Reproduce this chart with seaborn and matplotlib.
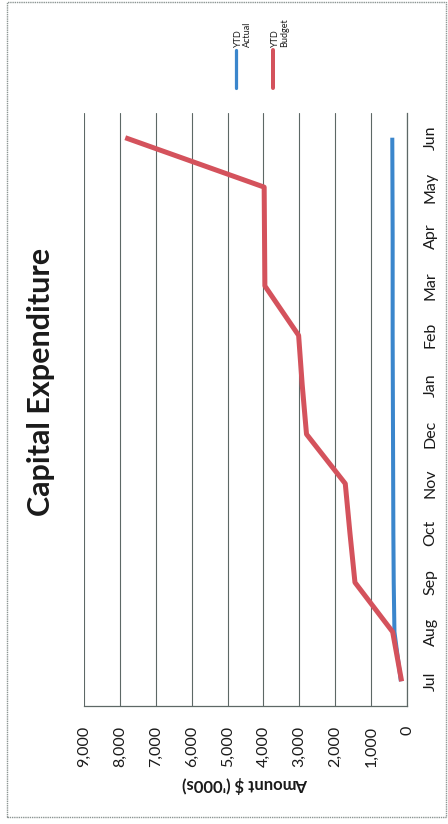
import matplotlib
matplotlib.use("Agg")
import matplotlib.pyplot as plt
from matplotlib.lines import Line2D
from matplotlib.patches import Rectangle
from matplotlib.ticker import FuncFormatter, MultipleLocator
import pandas as pd
import seaborn as sns

# Financial year months (Jul -> Jun)
months = ["Jul", "Aug", "Sep", "Oct", "Nov", "Dec", "Jan", "Feb", "Mar", "Apr", "May", "Jun"]
# Cumulative year-to-date capital expenditure, $'000s
ytd_actual = [170, 350, 370, 380, 385, 390, 395, 400, 400, 400, 405, 410]
ytd_budget = [150, 400, 1450, 1590, 1720, 2800, 2920, 3020, 3960, 3970, 3980, 7850]
series_names = ["YTD Actual", "YTD Budget"]
series_colors = ["#3b86cc", "#d4525c"]

sns.set_theme(style="white")
plt.rcParams["font.family"] = ["Lato", "DejaVu Sans"]

df = pd.DataFrame({
    "pos": list(range(len(months))) * 2,
    "month": months * 2,
    "amount": ytd_actual + ytd_budget,
    "series": [series_names[0]] * len(months) + [series_names[1]] * len(months),
})

fig = plt.figure(figsize=(4.48, 8.24), dpi=100)
ax = fig.add_axes([84 / 448, 1 - 706 / 824, (407 - 84) / 448, (706 - 113) / 824])

# The page is laid out sideways: months run up the page, amounts run right-to-left.
for name, color, lw in zip(series_names, series_colors, [2.9, 3.6]):
    sns.lineplot(data=df[df["series"] == name], x="amount", y="pos", orient="y",
                 sort=False, color=color, linewidth=lw, ax=ax, legend=False,
                 solid_capstyle="butt")

ax.set_xlim(9000, 0)
ax.set_ylim(-0.5, len(months) - 0.5)
ax.xaxis.set_major_locator(MultipleLocator(1000))
ax.xaxis.set_major_formatter(FuncFormatter(lambda v, p: f"{int(v):,}"))
ax.set_yticks(range(len(months)))
ax.set_yticklabels(months)
ax.yaxis.tick_right()

grid_color = "#5d6866"
ax.grid(axis="x", color=grid_color, linewidth=0.8)
ax.grid(axis="y", visible=False)
ax.set_axisbelow(True)
for side in ["top", "left"]:
    ax.spines[side].set_visible(False)
for side in ["bottom", "right"]:
    ax.spines[side].set_visible(True)
    ax.spines[side].set_color(grid_color)
    ax.spines[side].set_linewidth(0.9)

ax.tick_params(axis="both", length=0, labelsize=11.5, colors="#1a1a1a")
ax.tick_params(axis="x", pad=14, labelrotation=90)
ax.tick_params(axis="y", pad=12, labelrotation=90, right=True, left=False,
               labelright=True, labelleft=False)
for lab in ax.get_yticklabels():
    lab.set_verticalalignment("center")

ax.set_ylabel("")
ax.set_xlabel("Amount $ ('000s)", fontsize=12, fontweight="bold", color="#1a1a1a",
              rotation=180, labelpad=7)

fig.text(41 / 448, 1 - 382 / 824, "Capital Expenditure", rotation=90,
         ha="center", va="center", fontsize=22, fontweight="bold", color="#1a1a1a")

# Legend drawn sideways at the top of the page
for i, (name, color, lw) in enumerate(zip(series_names, series_colors, [2.9, 3.6])):
    x = (236 + 37 * i) / 448
    fig.add_artist(Line2D([x, x], [1 - 88 / 824, 1 - 50 / 824], color=color,
                          linewidth=lw * 0.8, transform=fig.transFigure))
    fig.text(x + 7 / 448, 1 - 47 / 824, name.replace(" ", "\n"), rotation=90,
             ha="center", va="bottom", multialignment="left", fontsize=6.5,
             color="#1a1a1a", linespacing=1.1)

# Page frame
fig.add_artist(Rectangle((7 / 448, 1 - 817 / 824), 439 / 448, 815 / 824,
                         transform=fig.transFigure, fill=False,
                         edgecolor="#8c9593", linewidth=1.0, linestyle=(0, (1, 0.6))))

fig.savefig("out.png", dpi=100)
